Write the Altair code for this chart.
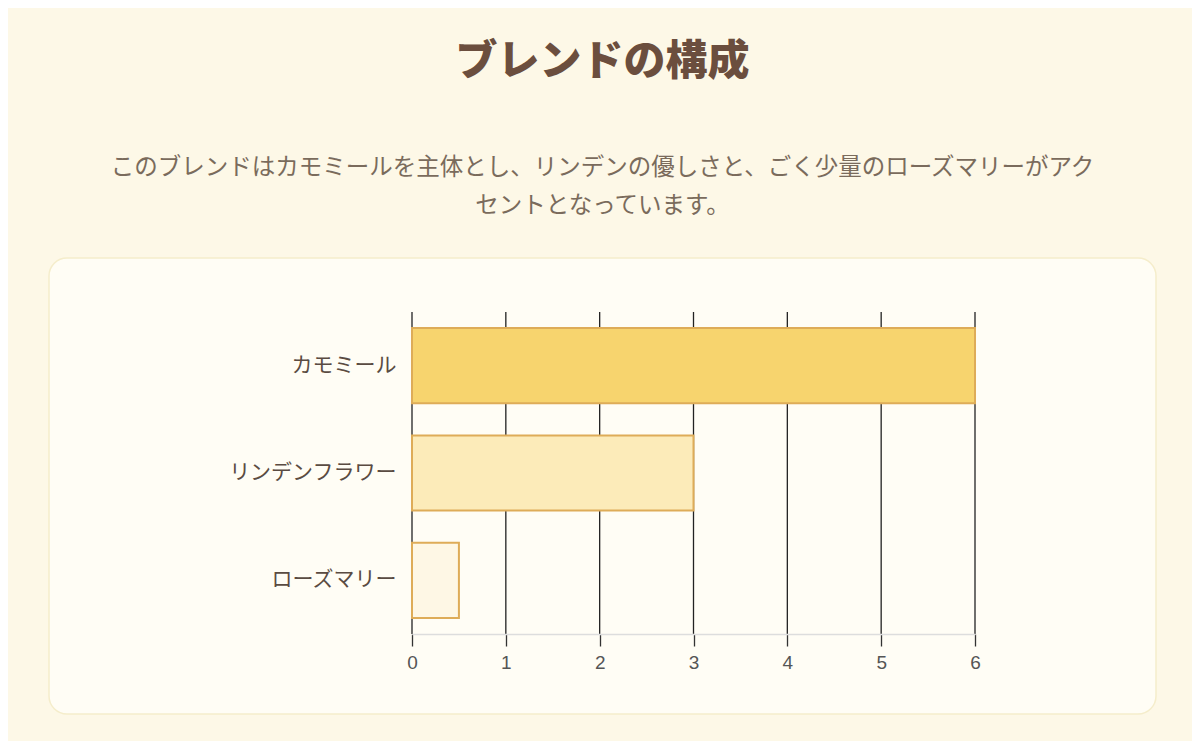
import altair as alt
import pandas as pd

herbs = ["カモミール", "リンデンフラワー", "ローズマリー"]
parts = [6, 3, 0.5]
fills = ["#f7d46e", "#fcebb9", "#fef7e5"]
x_ticks = [0, 1, 2, 3, 4, 5, 6]

title_text = "ブレンドの構成"
subtitle_lines = [
    "このブレンドはカモミールを主体とし、リンデンの優しさと、ごく少量のローズマリーがアク",
    "セントとなっています。",
]

df = pd.DataFrame({"herb": herbs, "parts": parts})
grid_df = pd.DataFrame({"tick": x_ticks})
card_df = pd.DataFrame({"k": [0]})

JP = "Noto Sans CJK JP"
x_scale = alt.Scale(domain=[0, 6], nice=False)
x_axis = alt.Axis(values=x_ticks, title=None, grid=False, zindex=1,
                  domainColor="#dddddd", domainWidth=1.5,
                  tickColor="#333333", tickSize=12, tickWidth=1.3,
                  labelFont="Liberation Sans", labelFontSize=19,
                  labelFlush=False,
                  labelColor="#555555", labelPadding=7)

card = alt.Chart(card_df).mark_rect(
    fill="#fffdf5", stroke="#f5edcb", strokeWidth=1.5, cornerRadius=18
).encode(
    x=alt.value(-363), x2=alt.value(744),
    y=alt.value(-54), y2=alt.value(402),
)

grid = alt.Chart(grid_df).mark_rule(color="#222222", strokeWidth=1.3).encode(
    x=alt.X("tick:Q", scale=x_scale, axis=x_axis),
)

bars = alt.Chart(df).mark_bar(stroke="#deac58", strokeWidth=2).encode(
    x=alt.X("parts:Q", scale=x_scale, axis=x_axis),
    y=alt.Y("herb:N", sort=herbs,
            scale=alt.Scale(paddingInner=0.3, paddingOuter=0.15),
            axis=alt.Axis(title=None, ticks=False, domain=False, zindex=1,
                          labelFont=JP, labelFontSize=21,
                          labelColor="#5a4b42", labelPadding=16)),
    color=alt.Color("herb:N", scale=alt.Scale(domain=herbs, range=fills),
                    legend=None),
)

chart = alt.layer(card, grid, bars).properties(
    width=563, height=322,
    padding={"left": 40, "top": 32, "right": 35, "bottom": 26},
    title=alt.Title(
        text=title_text,
        subtitle=subtitle_lines,
        frame="bounds", anchor="middle",
        font=JP, fontSize=42, fontWeight=900, color="#6b4e3e",
        subtitleFont=JP, subtitleFontSize=23.5, subtitleColor="#7a6b5c",
        subtitleLineHeight=38, subtitlePadding=72, offset=39,
    ),
).configure(
    background="#fdf8e7",
).configure_axisX(
    labelFontSize=19, labelFont="Liberation Sans", labelFlush=False,
).configure_view(stroke=None)

chart.save("out.html", embed_options={"renderer": "svg", "actions": False})
